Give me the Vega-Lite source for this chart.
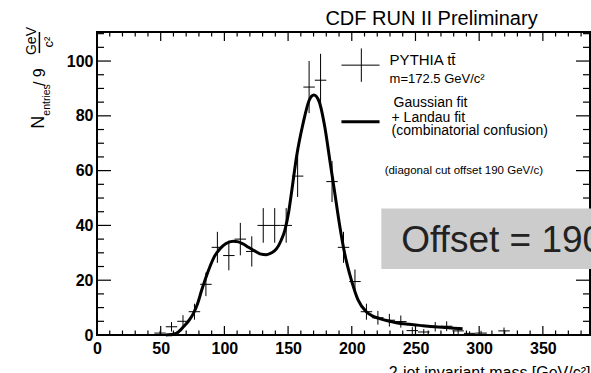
{
  "$schema": "https://vega.github.io/schema/vega-lite/v6.json",
  "width": 493,
  "height": 303,
  "autosize": {"type": "none"},
  "padding": {"left": 97, "top": 32, "right": 1, "bottom": 38},
  "background": "white",
  "config": {
    "view": {"stroke": "black", "strokeWidth": 2},
    "font": "Liberation Sans",
    "axis": {"grid": false, "domain": false, "ticks": false, "tickSize": 0, "labelFont": "Liberation Sans", "labelFontWeight": "bold", "labelFontSize": 16, "labelColor": "black", "labelFlush": false}
  },
  "data": {"values": [{"anno": 1}]},
  "datasets": {
    "xmaj": [{"v": 0}, {"v": 50}, {"v": 100}, {"v": 150}, {"v": 200}, {"v": 250}, {"v": 300}, {"v": 350}],
    "xmin": [{"v": 10}, {"v": 20}, {"v": 30}, {"v": 40}, {"v": 60}, {"v": 70}, {"v": 80}, {"v": 90}, {"v": 110}, {"v": 120}, {"v": 130}, {"v": 140}, {"v": 160}, {"v": 170}, {"v": 180}, {"v": 190}, {"v": 210}, {"v": 220}, {"v": 230}, {"v": 240}, {"v": 260}, {"v": 270}, {"v": 280}, {"v": 290}, {"v": 310}, {"v": 320}, {"v": 330}, {"v": 340}, {"v": 360}, {"v": 370}, {"v": 380}],
    "ymaj": [{"v": 0}, {"v": 20}, {"v": 40}, {"v": 60}, {"v": 80}, {"v": 100}],
    "ymin": [{"v": 5}, {"v": 10}, {"v": 15}, {"v": 25}, {"v": 30}, {"v": 35}, {"v": 45}, {"v": 50}, {"v": 55}, {"v": 65}, {"v": 70}, {"v": 75}, {"v": 85}, {"v": 90}, {"v": 95}, {"v": 105}, {"v": 110}],
    "hist": [
      {"x": 49.5, "xlo": 45, "xhi": 54, "y": 0.7, "ylo": 0, "yhi": 1.54},
      {"x": 58.5, "xlo": 54, "xhi": 63, "y": 3, "ylo": 1.27, "yhi": 4.73},
      {"x": 67.5, "xlo": 63, "xhi": 72, "y": 5, "ylo": 2.76, "yhi": 7.24},
      {"x": 76.5, "xlo": 72, "xhi": 81, "y": 8.5, "ylo": 5.58, "yhi": 11.42},
      {"x": 85.5, "xlo": 81, "xhi": 90, "y": 18.5, "ylo": 14.2, "yhi": 22.8},
      {"x": 94.5, "xlo": 90, "xhi": 99, "y": 32, "ylo": 26.34, "yhi": 37.66},
      {"x": 103.5, "xlo": 99, "xhi": 108, "y": 29, "ylo": 23.61, "yhi": 34.39},
      {"x": 112.5, "xlo": 108, "xhi": 117, "y": 35, "ylo": 29.08, "yhi": 40.92},
      {"x": 121.5, "xlo": 117, "xhi": 126, "y": 30.5, "ylo": 24.98, "yhi": 36.02},
      {"x": 130.5, "xlo": 126, "xhi": 135, "y": 40, "ylo": 33.68, "yhi": 46.32},
      {"x": 139.5, "xlo": 135, "xhi": 144, "y": 40, "ylo": 33.68, "yhi": 46.32},
      {"x": 148.5, "xlo": 144, "xhi": 153, "y": 40, "ylo": 33.68, "yhi": 46.32},
      {"x": 157.5, "xlo": 153, "xhi": 162, "y": 58, "ylo": 50.38, "yhi": 65.62},
      {"x": 166.5, "xlo": 162, "xhi": 171, "y": 90.5, "ylo": 80.99, "yhi": 100.01},
      {"x": 175.5, "xlo": 171, "xhi": 180, "y": 93, "ylo": 83.36, "yhi": 102.64},
      {"x": 184.5, "xlo": 180, "xhi": 189, "y": 56, "ylo": 48.52, "yhi": 63.48},
      {"x": 193.5, "xlo": 189, "xhi": 198, "y": 32, "ylo": 26.34, "yhi": 37.66},
      {"x": 202.5, "xlo": 198, "xhi": 207, "y": 19.5, "ylo": 15.08, "yhi": 23.92},
      {"x": 211.5, "xlo": 207, "xhi": 216, "y": 8.5, "ylo": 5.58, "yhi": 11.42},
      {"x": 220.5, "xlo": 216, "xhi": 225, "y": 6.3, "ylo": 3.79, "yhi": 8.81},
      {"x": 229.5, "xlo": 225, "xhi": 234, "y": 5.4, "ylo": 3.08, "yhi": 7.72},
      {"x": 238.5, "xlo": 234, "xhi": 243, "y": 4.9, "ylo": 2.69, "yhi": 7.11},
      {"x": 247.5, "xlo": 243, "xhi": 252, "y": 1.6, "ylo": 0.34, "yhi": 2.86},
      {"x": 256.5, "xlo": 252, "xhi": 261, "y": 1.1, "ylo": 0.05, "yhi": 2.15},
      {"x": 265.5, "xlo": 261, "xhi": 270, "y": 3.0, "ylo": 1.27, "yhi": 4.73},
      {"x": 274.5, "xlo": 270, "xhi": 279, "y": 3.2, "ylo": 1.41, "yhi": 4.99},
      {"x": 283.5, "xlo": 279, "xhi": 288, "y": 1.5, "ylo": 0.28, "yhi": 2.72},
      {"x": 292.5, "xlo": 288, "xhi": 297, "y": 0.6, "ylo": 0, "yhi": 1.37},
      {"x": 301.5, "xlo": 297, "xhi": 306, "y": 0.7, "ylo": 0, "yhi": 1.54},
      {"x": 319.5, "xlo": 315, "xhi": 324, "y": 1.5, "ylo": 0.28, "yhi": 2.72}
    ],
    "fit": [
      {"x": 54, "y": 0}, {"x": 56, "y": 0.05}, {"x": 60, "y": 0.3}, {"x": 62.6, "y": 0.7},
      {"x": 65, "y": 1.6}, {"x": 67.8, "y": 3}, {"x": 72, "y": 5.2}, {"x": 75.7, "y": 7.9},
      {"x": 79, "y": 11.5}, {"x": 82.2, "y": 16.4}, {"x": 85.5, "y": 21}, {"x": 88.7, "y": 25},
      {"x": 92, "y": 28.5}, {"x": 96.6, "y": 31.5}, {"x": 101, "y": 33.3}, {"x": 107, "y": 34.2},
      {"x": 111, "y": 34}, {"x": 114.8, "y": 33.2}, {"x": 119, "y": 32}, {"x": 124, "y": 30.6},
      {"x": 128, "y": 29.6}, {"x": 133, "y": 29.3}, {"x": 137, "y": 30}, {"x": 141, "y": 31.5},
      {"x": 144.5, "y": 34.5}, {"x": 147.5, "y": 38.3}, {"x": 150.5, "y": 45}, {"x": 153, "y": 53},
      {"x": 156.6, "y": 65}, {"x": 161.8, "y": 77.3}, {"x": 166.5, "y": 85.6}, {"x": 170.2, "y": 87.6},
      {"x": 174.3, "y": 85.3}, {"x": 178.8, "y": 76}, {"x": 182.7, "y": 64}, {"x": 186.6, "y": 52},
      {"x": 190.5, "y": 40}, {"x": 194.4, "y": 29.8}, {"x": 199.7, "y": 20}, {"x": 204.9, "y": 12.8},
      {"x": 211.4, "y": 8.5}, {"x": 216, "y": 7}, {"x": 221.8, "y": 6}, {"x": 228, "y": 5.2},
      {"x": 234.9, "y": 4.5}, {"x": 245, "y": 3.9}, {"x": 255.8, "y": 3.4}, {"x": 265, "y": 3.0},
      {"x": 274, "y": 2.7}, {"x": 280, "y": 2.5}, {"x": 287, "y": 2.3}
    ]
  },
  "layer": [
    {
      "data": {"name": "hist"},
      "mark": {"type": "rule", "color": "black", "strokeWidth": 1},
      "encoding": {
        "x": {"field": "x", "type": "quantitative", "scale": {"domain": [0, 387], "nice": false, "zero": false},
          "axis": {"orient": "bottom", "values": [0, 50, 100, 150, 200, 250, 300, 350], "labelPadding": 5,
            "title": "2-jet invariant mass [GeV/c²]", "titleAnchor": "end", "titleFont": "Liberation Sans", "titleFontWeight": "normal", "titleFontSize": 16, "titlePadding": 8, "titleColor": "black"}},
        "y": {"field": "ylo", "type": "quantitative", "scale": {"domain": [0, 110.6], "nice": false},
          "axis": {"orient": "left", "values": [0, 20, 40, 60, 80, 100], "labelPadding": 4, "title": ""}},
        "y2": {"field": "yhi"}
      }
    },
    {
      "data": {"name": "hist"},
      "mark": {"type": "rule", "color": "black", "strokeWidth": 1},
      "encoding": {
        "x": {"field": "xlo", "type": "quantitative"},
        "x2": {"field": "xhi"},
        "y": {"field": "y", "type": "quantitative"}
      }
    },
    {
      "data": {"name": "xmaj"},
      "mark": {"type": "tick", "orient": "vertical", "color": "black", "opacity": 1, "thickness": 1.2, "size": 9, "yOffset": -4.5},
      "encoding": {"x": {"field": "v", "type": "quantitative"}, "y": {"datum": 0, "type": "quantitative"}}
    },
    {
      "data": {"name": "xmin"},
      "mark": {"type": "tick", "orient": "vertical", "color": "black", "opacity": 1, "thickness": 1.2, "size": 4.5, "yOffset": -2.25},
      "encoding": {"x": {"field": "v", "type": "quantitative"}, "y": {"datum": 0, "type": "quantitative"}}
    },
    {
      "data": {"name": "xmaj"},
      "mark": {"type": "tick", "orient": "vertical", "color": "black", "opacity": 1, "thickness": 1.2, "size": 9, "yOffset": 4.5},
      "encoding": {"x": {"field": "v", "type": "quantitative"}, "y": {"datum": 110.6, "type": "quantitative"}}
    },
    {
      "data": {"name": "xmin"},
      "mark": {"type": "tick", "orient": "vertical", "color": "black", "opacity": 1, "thickness": 1.2, "size": 4.5, "yOffset": 2.25},
      "encoding": {"x": {"field": "v", "type": "quantitative"}, "y": {"datum": 110.6, "type": "quantitative"}}
    },
    {
      "data": {"name": "ymaj"},
      "mark": {"type": "tick", "orient": "horizontal", "color": "black", "opacity": 1, "thickness": 1.2, "size": 14, "xOffset": 7},
      "encoding": {"y": {"field": "v", "type": "quantitative"}, "x": {"datum": 0, "type": "quantitative"}}
    },
    {
      "data": {"name": "ymin"},
      "mark": {"type": "tick", "orient": "horizontal", "color": "black", "opacity": 1, "thickness": 1.2, "size": 7, "xOffset": 3.5},
      "encoding": {"y": {"field": "v", "type": "quantitative"}, "x": {"datum": 0, "type": "quantitative"}}
    },
    {
      "data": {"name": "ymaj"},
      "mark": {"type": "tick", "orient": "horizontal", "color": "black", "opacity": 1, "thickness": 1.2, "size": 14, "xOffset": -7},
      "encoding": {"y": {"field": "v", "type": "quantitative"}, "x": {"datum": 387, "type": "quantitative"}}
    },
    {
      "data": {"name": "ymin"},
      "mark": {"type": "tick", "orient": "horizontal", "color": "black", "opacity": 1, "thickness": 1.2, "size": 7, "xOffset": -3.5},
      "encoding": {"y": {"field": "v", "type": "quantitative"}, "x": {"datum": 387, "type": "quantitative"}}
    },
    {
      "data": {"name": "fit"},
      "mark": {"type": "line", "color": "black", "strokeWidth": 3, "interpolate": "monotone"},
      "encoding": {
        "x": {"field": "x", "type": "quantitative"},
        "y": {"field": "y", "type": "quantitative"}
      }
    },
    {
      "mark": {"type": "rule", "color": "black", "strokeWidth": 1},
      "encoding": {
        "x": {"datum": 191.9, "type": "quantitative"}, "x2": {"datum": 221.8},
        "y": {"datum": 98.5, "type": "quantitative"}
      }
    },
    {
      "mark": {"type": "rule", "color": "black", "strokeWidth": 1},
      "encoding": {
        "x": {"datum": 207.5, "type": "quantitative"},
        "y": {"datum": 92.4, "type": "quantitative"}, "y2": {"datum": 104.6}
      }
    },
    {
      "mark": {"type": "rule", "color": "black", "strokeWidth": 3},
      "encoding": {
        "x": {"datum": 191.9, "type": "quantitative"}, "x2": {"datum": 221.8},
        "y": {"datum": 77.8, "type": "quantitative"}
      }
    },
    {
      "mark": {"type": "text", "text": "PYTHIA tt̄", "fontSize": 15, "align": "left", "baseline": "alphabetic", "color": "black"},
      "encoding": {"x": {"datum": 229.7, "type": "quantitative"}, "y": {"datum": 98.5, "type": "quantitative"}}
    },
    {
      "mark": {"type": "text", "text": "m=172.5 GeV/c²", "fontSize": 13, "align": "left", "baseline": "alphabetic", "color": "black"},
      "encoding": {"x": {"datum": 229.7, "type": "quantitative"}, "y": {"datum": 91.9, "type": "quantitative"}}
    },
    {
      "mark": {"type": "text", "text": "Gaussian fit", "fontSize": 14, "align": "left", "baseline": "alphabetic", "color": "black"},
      "encoding": {"x": {"datum": 232.8, "type": "quantitative"}, "y": {"datum": 83.1, "type": "quantitative"}}
    },
    {
      "mark": {"type": "text", "text": "+ Landau fit", "fontSize": 14, "align": "left", "baseline": "alphabetic", "color": "black"},
      "encoding": {"x": {"datum": 231.2, "type": "quantitative"}, "y": {"datum": 77.8, "type": "quantitative"}}
    },
    {
      "mark": {"type": "text", "text": "(combinatorial confusion)", "fontSize": 14, "align": "left", "baseline": "alphabetic", "color": "black"},
      "encoding": {"x": {"datum": 231.2, "type": "quantitative"}, "y": {"datum": 73, "type": "quantitative"}}
    },
    {
      "mark": {"type": "text", "text": "(diagonal cut offset 190 GeV/c)", "fontSize": 11.5, "align": "left", "baseline": "alphabetic", "color": "black"},
      "encoding": {"x": {"datum": 225.8, "type": "quantitative"}, "y": {"datum": 58.8, "type": "quantitative"}}
    },
    {
      "mark": {"type": "text", "text": "CDF RUN II Preliminary", "fontSize": 20, "align": "center", "baseline": "alphabetic", "color": "black"},
      "encoding": {"x": {"datum": 262.6, "type": "quantitative"}, "y": {"datum": 113.1, "type": "quantitative"}}
    },
    {
      "mark": {"type": "rect", "color": "#cccccc"},
      "encoding": {
        "x": {"datum": 223.2, "type": "quantitative"}, "x2": {"datum": 420},
        "y": {"datum": 46.2, "type": "quantitative"}, "y2": {"datum": 24.1}
      }
    },
    {
      "mark": {"type": "text", "text": "Offset = 190", "fontSize": 37, "align": "left", "baseline": "alphabetic", "color": "#222222"},
      "encoding": {"x": {"datum": 238.8, "type": "quantitative"}, "y": {"datum": 30.4, "type": "quantitative"}}
    },
    {
      "mark": {"type": "text", "text": "N", "fontSize": 18, "angle": 270, "align": "center", "baseline": "middle", "color": "black"},
      "encoding": {"x": {"datum": -45.2, "type": "quantitative"}, "y": {"datum": 77.7, "type": "quantitative"}}
    },
    {
      "mark": {"type": "text", "text": "entries", "fontSize": 10.5, "angle": 270, "align": "center", "baseline": "middle", "color": "black"},
      "encoding": {"x": {"datum": -38.9, "type": "quantitative"}, "y": {"datum": 85.8, "type": "quantitative"}}
    },
    {
      "mark": {"type": "text", "text": "/ 9", "fontSize": 16, "angle": 270, "align": "center", "baseline": "middle", "color": "black"},
      "encoding": {"x": {"datum": -44.4, "type": "quantitative"}, "y": {"datum": 94.1, "type": "quantitative"}}
    },
    {
      "mark": {"type": "text", "text": "GeV", "fontSize": 14, "angle": 270, "align": "center", "baseline": "middle", "color": "black"},
      "encoding": {"x": {"datum": -50.7, "type": "quantitative"}, "y": {"datum": 107.3, "type": "quantitative"}}
    },
    {
      "mark": {"type": "rule", "color": "black", "strokeWidth": 1.5},
      "encoding": {
        "x": {"datum": -45.2, "type": "quantitative"},
        "y": {"datum": 102.9, "type": "quantitative"}, "y2": {"datum": 110.6}
      }
    },
    {
      "mark": {"type": "text", "text": "c²", "fontSize": 13, "angle": 270, "align": "center", "baseline": "middle", "color": "black"},
      "encoding": {"x": {"datum": -37.4, "type": "quantitative"}, "y": {"datum": 106.9, "type": "quantitative"}}
    }
  ]
}
